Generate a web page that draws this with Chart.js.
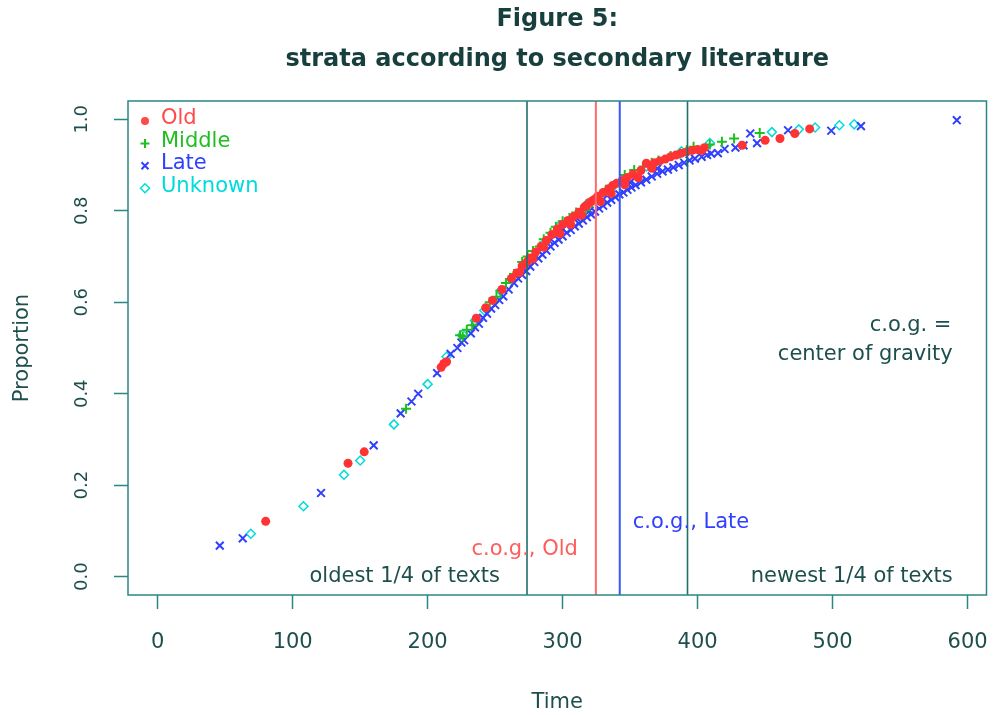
<!DOCTYPE html>
<html>
<head>
<meta charset="utf-8">
<title>Figure 5: strata according to secondary literature</title>
<script src="https://cdn.jsdelivr.net/npm/chart.js@4.4.1/dist/chart.umd.min.js"></script>
<style>
  html, body { margin: 0; padding: 0; background: #ffffff; }
  #wrap { width: 994px; height: 715px; position: relative; }
</style>
</head>
<body>
<div id="wrap"><canvas id="strataChart"></canvas></div>
<script>
"use strict";

/* data: [time, proportion] */
var oldPts = [
    [80, 0.121], [141, 0.248], [153, 0.273], [210, 0.458], [212, 0.466], [214, 0.470],
    [236, 0.565], [243, 0.588], [248, 0.604], [255, 0.628], [262, 0.652], [266, 0.664],
    [268, 0.665], [270, 0.679], [272, 0.683], [274, 0.690], [276, 0.697], [278, 0.695],
    [280, 0.710], [284, 0.722], [286, 0.720], [288, 0.735], [292, 0.748], [296, 0.760],
    [298, 0.750], [300, 0.770], [304, 0.779], [306, 0.770], [308, 0.787], [312, 0.797],
    [314, 0.790], [316, 0.808], [318, 0.812], [320, 0.818], [322, 0.822], [324, 0.826],
    [326, 0.832], [328, 0.820], [330, 0.840], [334, 0.848], [336, 0.838], [337, 0.855],
    [340, 0.860], [344, 0.866], [346, 0.857], [348, 0.873], [352, 0.880], [356, 0.872],
    [358, 0.888], [362, 0.904], [366, 0.893], [368, 0.905], [372, 0.909], [376, 0.913],
    [380, 0.918], [384, 0.922], [388, 0.926], [392, 0.929], [396, 0.932], [400, 0.934],
    [403, 0.932], [405, 0.938], [433, 0.943], [450, 0.954], [461, 0.958], [472, 0.969],
    [483, 0.979]
];
var middlePts = [
    [184, 0.367], [224, 0.528], [226, 0.525], [229, 0.540], [233, 0.550], [246, 0.600],
    [251, 0.612], [254, 0.625], [258, 0.642], [264, 0.662], [270, 0.688], [274, 0.700],
    [278, 0.712], [283, 0.722], [286, 0.738], [291, 0.752], [295, 0.765], [300, 0.777],
    [305, 0.784], [310, 0.796], [317, 0.801], [322, 0.818], [332, 0.846], [346, 0.878],
    [353, 0.889], [360, 0.897], [366, 0.905], [371, 0.910], [380, 0.920], [387, 0.925],
    [392, 0.933], [397, 0.940], [409, 0.945], [418, 0.951], [427, 0.958], [446, 0.970]
];
var latePts = [
    [46, 0.068], [63, 0.084], [121, 0.183], [160, 0.287], [180, 0.357], [188, 0.383],
    [193, 0.400], [207, 0.445], [217, 0.487], [222, 0.500], [225, 0.512], [227, 0.517],
    [232, 0.532], [235, 0.545], [238, 0.553], [241, 0.566], [244, 0.575], [247, 0.586],
    [250, 0.594], [253, 0.605], [256, 0.613], [260, 0.628], [264, 0.642], [267, 0.652],
    [270, 0.660], [270, 0.675], [273, 0.668], [276, 0.678], [279, 0.688], [282, 0.696],
    [285, 0.704], [288, 0.713], [290, 0.735], [291, 0.722], [294, 0.730], [297, 0.737],
    [300, 0.744], [300, 0.760], [303, 0.752], [306, 0.758], [309, 0.766], [310, 0.785],
    [312, 0.772], [315, 0.779], [318, 0.786], [320, 0.800], [321, 0.792], [324, 0.798],
    [327, 0.805], [330, 0.811], [330, 0.825], [333, 0.818], [336, 0.824], [339, 0.830],
    [342, 0.836], [345, 0.840], [348, 0.846], [350, 0.862], [351, 0.851], [354, 0.856],
    [358, 0.862], [362, 0.868], [366, 0.875], [370, 0.881], [370, 0.892], [374, 0.886],
    [378, 0.890], [382, 0.895], [386, 0.900], [390, 0.905], [394, 0.910], [398, 0.914],
    [403, 0.918], [407, 0.922], [410, 0.925], [415, 0.926], [420, 0.935], [428, 0.938],
    [434, 0.943], [439, 0.969], [444, 0.948], [467, 0.976], [499, 0.975], [521, 0.985],
    [592, 0.998]
];
var unknownPts = [
    [69, 0.094], [108, 0.154], [138, 0.223], [150, 0.254], [175, 0.333], [200, 0.421],
    [214, 0.481], [226, 0.530], [235, 0.560], [242, 0.582], [254, 0.625], [262, 0.650],
    [285, 0.725], [298, 0.768], [318, 0.815], [338, 0.855], [362, 0.897], [388, 0.930],
    [409, 0.948], [455, 0.972], [475, 0.978], [487, 0.982], [505, 0.987], [516, 0.989]
];

var xTicks = [0, 100, 200, 300, 400, 500, 600];
var yTicks = [0.0, 0.2, 0.4, 0.6, 0.8, 1.0];
var quartileLines = [273.6, 392.5];   // oldest / newest 1/4 of texts
var cogOld = 324.6;
var cogLate = 342.3;

var axisCol = '#2a8784';
var textCol = '#1d4f4d';
var redCol = '#ff3333';
var greenCol = '#1fbf1f';
var blueCol = '#3040ff';
var cyanCol = '#00dcdc';
var fontFam = '"DejaVu Sans", "Liberation Sans", sans-serif';

function toXY(arr) {
    return arr.map(function (p) { return { x: p[0], y: p[1] }; });
}
function vline(v) {
    return [{ x: v, y: -0.04 }, { x: v, y: 1.04 }];
}

var legendRows = [
    { label: 'Old', color: '#ff4a4a', mark: 'dot' },
    { label: 'Middle', color: greenCol, mark: 'plus' },
    { label: 'Late', color: blueCol, mark: 'cross' },
    { label: 'Unknown', color: cyanCol, mark: 'diamond' }
];

var notes = [
    { text: 'oldest 1/4 of texts', x: quartileLines[0], y: 0.0, align: 'right', dx: -27, color: textCol },
    { text: 'newest 1/4 of texts', x: 589, y: 0.0, align: 'right', dx: 0, color: textCol },
    { text: 'c.o.g., Old', x: cogOld, y: 0.059, align: 'right', dx: -18, color: '#ff5c5c' },
    { text: 'c.o.g., Late', x: cogLate, y: 0.118, align: 'left', dx: 13, color: blueCol },
    { text: 'c.o.g. =', x: 588, y: 0.548, align: 'right', dx: 0, color: textCol },
    { text: 'center of gravity', x: 589, y: 0.485, align: 'right', dx: 0, color: textCol }
];

function drawMark(ctx, mark, color, x, y) {
    ctx.save();
    ctx.strokeStyle = color;
    ctx.fillStyle = color;
    ctx.lineWidth = 2;
    ctx.beginPath();
    if (mark === 'dot') {
        ctx.arc(x, y, 4, 0, Math.PI * 2);
        ctx.fill();
    } else if (mark === 'plus') {
        ctx.moveTo(x - 4.5, y); ctx.lineTo(x + 4.5, y);
        ctx.moveTo(x, y - 4.5); ctx.lineTo(x, y + 4.5);
        ctx.stroke();
    } else if (mark === 'cross') {
        ctx.moveTo(x - 3.5, y - 3.5); ctx.lineTo(x + 3.5, y + 3.5);
        ctx.moveTo(x - 3.5, y + 3.5); ctx.lineTo(x + 3.5, y - 3.5);
        ctx.stroke();
    } else {
        ctx.lineWidth = 1.5;
        ctx.moveTo(x, y - 4.5); ctx.lineTo(x + 4.5, y);
        ctx.lineTo(x, y + 4.5); ctx.lineTo(x - 4.5, y);
        ctx.closePath();
        ctx.stroke();
    }
    ctx.restore();
}

/* box, legend and the text notes, drawn after the datasets */
var rDecor = {
    id: 'rDecor',
    afterDatasetsDraw: function (chart) {
        var ctx = chart.ctx;
        var a = chart.chartArea;
        var sx = chart.scales.x, sy = chart.scales.y;
        ctx.save();
        ctx.strokeStyle = axisCol;
        ctx.lineWidth = 1.5;
        ctx.strokeRect(a.left, a.top, a.right - a.left, a.bottom - a.top);

        ctx.font = '21px ' + fontFam;
        ctx.textBaseline = 'middle';
        legendRows.forEach(function (row, i) {
            var ly = a.top + 18 + i * 22.4;
            drawMark(ctx, row.mark, row.color, a.left + 17, ly + 2);
            ctx.fillStyle = row.color;
            ctx.textAlign = 'left';
            ctx.fillText(row.label, a.left + 33, ly);
        });

        notes.forEach(function (n) {
            ctx.fillStyle = n.color;
            ctx.textAlign = n.align;
            ctx.fillText(n.text, sx.getPixelForValue(n.x) + n.dx, sy.getPixelForValue(n.y));
        });
        ctx.restore();
    }
};

var ctxStrata = document.getElementById('strataChart').getContext('2d');
var strataChart = new Chart(ctxStrata, {
    type: 'scatter',
    data: {
        datasets: [{
            label: 'Old',
            data: toXY(oldPts),
            pointStyle: 'circle',
            pointRadius: 4.5,
            backgroundColor: redCol,
            borderColor: redCol,
            borderWidth: 0,
            order: 2
        }, {
            label: 'Middle',
            data: toXY(middlePts),
            pointStyle: 'cross',
            pointRadius: 5,
            borderColor: greenCol,
            backgroundColor: greenCol,
            borderWidth: 2,
            order: 3
        }, {
            label: 'Late',
            data: toXY(latePts),
            pointStyle: 'crossRot',
            pointRadius: 5.5,
            borderColor: blueCol,
            backgroundColor: blueCol,
            borderWidth: 2,
            order: 4
        }, {
            label: 'Unknown',
            data: toXY(unknownPts),
            pointStyle: 'rectRot',
            pointRadius: 4.5,
            borderColor: cyanCol,
            backgroundColor: 'rgba(255,255,255,0)',
            borderWidth: 1.5,
            order: 5
        }, {
            type: 'line',
            label: 'q1',
            data: vline(quartileLines[0]),
            borderColor: '#1f6f6c',
            borderWidth: 1.6,
            pointRadius: 0,
            showLine: true,
            order: 0
        }, {
            type: 'line',
            label: 'q3',
            data: vline(quartileLines[1]),
            borderColor: '#1f6f6c',
            borderWidth: 1.6,
            pointRadius: 0,
            showLine: true,
            order: 0
        }, {
            type: 'line',
            label: 'cog old',
            data: vline(cogOld),
            borderColor: '#ff6a6a',
            borderWidth: 2,
            pointRadius: 0,
            showLine: true,
            order: 0
        }, {
            type: 'line',
            label: 'cog late',
            data: vline(cogLate),
            borderColor: '#3558ff',
            borderWidth: 2,
            pointRadius: 0,
            showLine: true,
            order: 0
        }]
    },
    options: {
        responsive: true,
        maintainAspectRatio: false,
        animation: false,
        devicePixelRatio: 1,
        layout: {
            padding: { left: 0, right: 6, top: 0, bottom: 0 }
        },
        plugins: {
            legend: { display: false },
            tooltip: { enabled: false },
            title: {
                display: true,
                fullSize: false,
                text: ['Figure 5:', 'strata according to secondary literature'],
                color: '#173f3d',
                font: { family: fontFam, size: 24, weight: 'bold', lineHeight: '40px' },
                padding: { top: 0, bottom: 21 }
            }
        },
        scales: {
            x: {
                type: 'linear',
                min: -22,
                max: 614,
                afterBuildTicks: function (s) {
                    s.ticks = xTicks.map(function (v) { return { value: v }; });
                },
                afterFit: function (s) {
                    s.height = 120;
                    s.paddingLeft = 0;
                    s.paddingRight = 0;
                },
                ticks: {
                    color: textCol,
                    font: { family: fontFam, size: 21 },
                    padding: 21,
                    maxRotation: 0,
                    autoSkip: false
                },
                grid: {
                    drawOnChartArea: false,
                    drawTicks: true,
                    tickLength: 14,
                    tickColor: axisCol,
                    tickWidth: 1.5
                },
                border: { display: false },
                title: {
                    display: true,
                    text: 'Time',
                    color: textCol,
                    font: { family: fontFam, size: 21 },
                    padding: { top: 0, bottom: 0 }
                }
            },
            y: {
                type: 'linear',
                min: -0.04,
                max: 1.04,
                afterBuildTicks: function (s) {
                    s.ticks = yTicks.map(function (v) { return { value: v }; });
                },
                afterFit: function (s) {
                    s.width = 128;
                    s.paddingTop = 0;
                    s.paddingBottom = 0;
                },
                ticks: {
                    color: textCol,
                    font: { family: fontFam, size: 18 },
                    minRotation: 90,
                    maxRotation: 90,
                    crossAlign: 'center',
                    padding: 17,
                    callback: function (v) { return Number(v).toFixed(1); }
                },
                grid: {
                    drawOnChartArea: false,
                    drawTicks: true,
                    tickLength: 14,
                    tickColor: axisCol,
                    tickWidth: 1.5
                },
                border: { display: false },
                title: {
                    display: true,
                    text: 'Proportion',
                    color: textCol,
                    font: { family: fontFam, size: 21 },
                    padding: { top: 10, bottom: 0 }
                }
            }
        }
    },
    plugins: [rDecor]
});
</script>
</body>
</html>
